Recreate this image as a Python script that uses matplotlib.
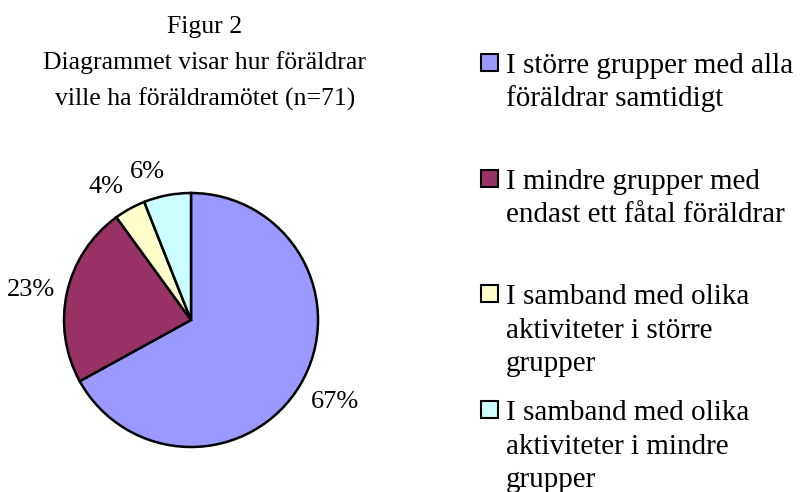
import numpy as np
import matplotlib
matplotlib.use("Agg")
import matplotlib.pyplot as plt
from matplotlib.patches import Rectangle

plt.rcParams['font.family'] = ['Liberation Serif', 'DejaVu Serif']

# data
title_lines = ["Figur 2", "Diagrammet visar hur föräldrar", "ville ha föräldramötet (n=71)"]
categories = ["I större grupper med alla\nföräldrar samtidigt",
              "I mindre grupper med\nendast ett fåtal föräldrar",
              "I samband med olika\naktiviteter i större\ngrupper",
              "I samband med olika\naktiviteter i mindre\ngrupper"]
percent = [67, 23, 4, 6]
colors = ["#9999FF", "#993366", "#FFFFCC", "#CCFFFF"]

W, H = 800, 492
fig = plt.figure(figsize=(W / 100, H / 100), dpi=100)

# pie axes, placed in pixels (center ~191,320 r ~127)
cx, cy, r = 191, 320, 127
ax = fig.add_axes([(cx - r) / W, (H - cy - r) / H, 2 * r / W, 2 * r / H])
wedges, texts, autotexts = ax.pie(percent, colors=colors, startangle=90, counterclock=False,
                                  autopct='%1.0f%%', pctdistance=1.1,
                                  wedgeprops=dict(edgecolor='black', linewidth=1.8),
                                  textprops=dict(fontsize=19, color='black'))
# excel style label anchoring: outer edge of the text touches the point
for w, t in zip(wedges, autotexts):
    a = np.deg2rad((w.theta1 + w.theta2) / 2)
    c, s = np.cos(a), np.sin(a)
    t.set_ha('left' if c > 0.1 else ('right' if c < -0.1 else 'center'))
    t.set_va('bottom' if s > 0.5 else ('top' if s < -0.5 else 'center'))
ax.set_xlim(-1, 1)
ax.set_ylim(-1, 1)
ax.set_aspect('equal')
ax.axis('off')

# title
for i, line in enumerate(title_lines):
    fig.text(205 / W, 1 - (33 + 36.5 * i) / H, line, ha='center', va='baseline', fontsize=18.5)

# legend (equal spacing per entry, like Excel)
for i, (lab, col) in enumerate(zip(categories, colors)):
    base = 73 + 115.7 * i
    fig.add_artist(Rectangle((481 / W, 1 - (base - 2) / H), 17 / W, 17 / H,
                             transform=fig.transFigure, facecolor=col,
                             edgecolor='black', linewidth=1.5))
    for j, line in enumerate(lab.split("\n")):
        fig.text(506 / W, 1 - (base + 33.5 * j) / H, line, ha='left', va='baseline', fontsize=21)

fig.savefig("out.png", dpi=100)
